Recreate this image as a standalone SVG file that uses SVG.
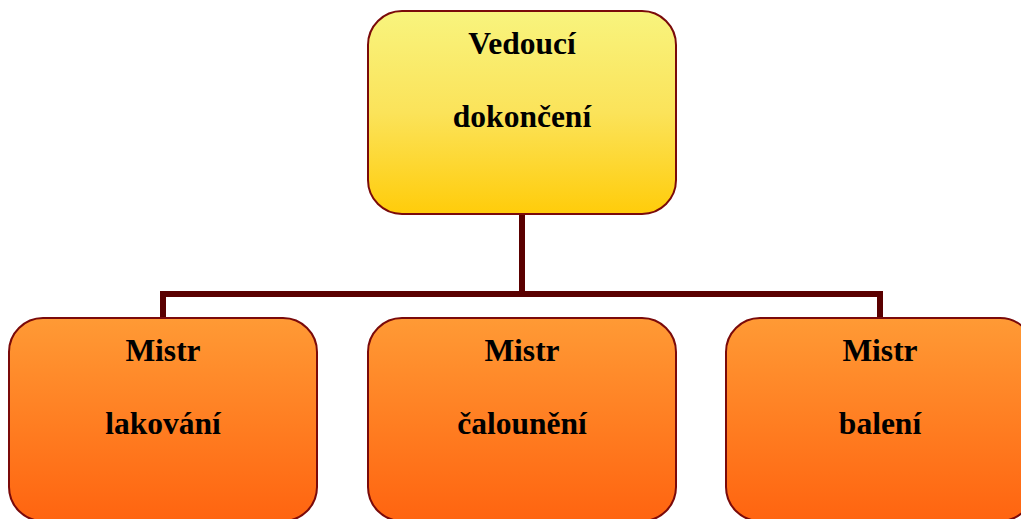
<svg xmlns="http://www.w3.org/2000/svg" width="1021" height="519" viewBox="0 0 1021 519">
  <defs>
    <linearGradient id="gYellow" x1="0" y1="0" x2="0" y2="1">
      <stop offset="0" stop-color="#f8f47e"/>
      <stop offset="0.5" stop-color="#fbe35a"/>
      <stop offset="1" stop-color="#ffcc0a"/>
    </linearGradient>
    <linearGradient id="gOrange" x1="0" y1="0" x2="0" y2="1">
      <stop offset="0" stop-color="#ff9a35"/>
      <stop offset="1" stop-color="#ff6410"/>
    </linearGradient>
    <style>
      .box { stroke: #7a0a0a; stroke-width: 2; }
      .top { fill: url(#gYellow); }
      .sub { fill: url(#gOrange); }
      .lbl { font-family: "Liberation Serif", "Times New Roman", serif; font-weight: bold; font-size: 31.5px; fill: #000; text-anchor: middle; }
      .conn { stroke: #5a0000; stroke-width: 6; fill: none; stroke-linejoin: miter; }
    </style>
  </defs>
  <rect width="1021" height="519" fill="#ffffff"/>

  <!-- connectors -->
  <g id="connectors">
    <path class="conn" d="M522 214 V294"/>
    <path class="conn" d="M163 318 V294 H880 V318"/>
  </g>

  <g id="node-vedouci">
    <rect class="box top" x="368" y="11" width="308" height="203" rx="34" ry="34"/>
    <text class="lbl" x="522" y="54">Vedoucí</text>
    <text class="lbl" x="522" y="127">dokončení</text>
  </g>

  <g id="node-lakovani">
    <rect class="box sub" x="9" y="318" width="308" height="203" rx="34" ry="34"/>
    <text class="lbl" x="163" y="361">Mistr</text>
    <text class="lbl" x="163" y="434">lakování</text>
  </g>

  <g id="node-calouneni">
    <rect class="box sub" x="368" y="318" width="308" height="203" rx="34" ry="34"/>
    <text class="lbl" x="522" y="361">Mistr</text>
    <text class="lbl" x="522" y="434">čalounění</text>
  </g>

  <g id="node-baleni">
    <rect class="box sub" x="726" y="318" width="308" height="203" rx="34" ry="34"/>
    <text class="lbl" x="880" y="361">Mistr</text>
    <text class="lbl" x="880" y="434">balení</text>
  </g>
</svg>
